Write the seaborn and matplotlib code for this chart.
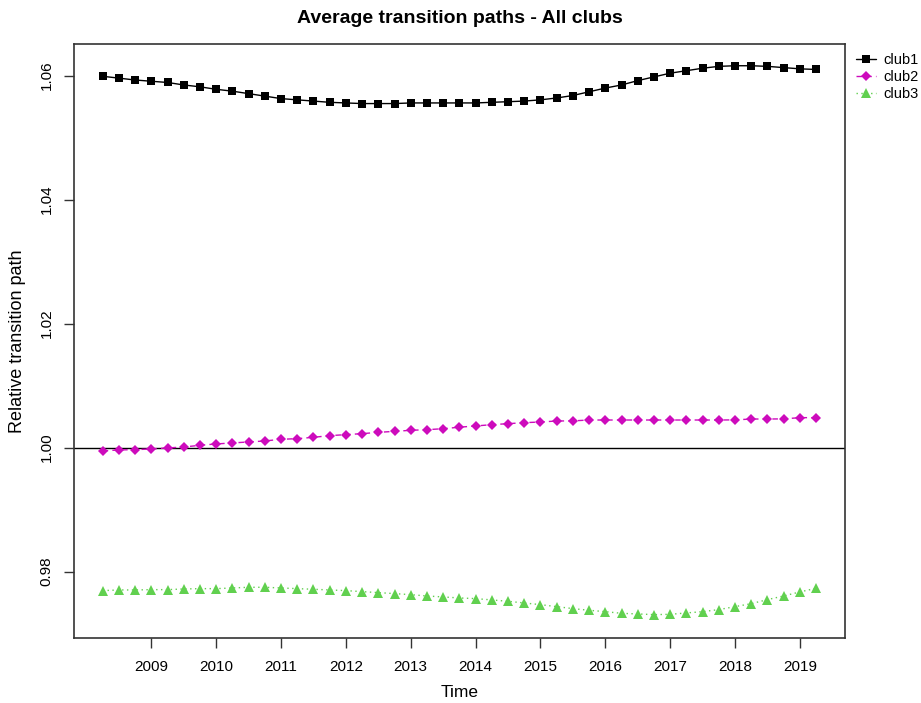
import numpy as np
import pandas as pd
import matplotlib
matplotlib.use("Agg")
import matplotlib.pyplot as plt
import seaborn as sns

# Quarterly time axis, 2008 Q2 to 2019 Q2
start_year = 2008.25
n_quarters = 45

club1 = [1.0599, 1.0596, 1.0593, 1.0591, 1.0589, 1.0585, 1.0582, 1.0578, 1.0575,
         1.0571, 1.0567, 1.0563, 1.0561, 1.0559, 1.0557, 1.0556, 1.0555, 1.0555,
         1.0555, 1.0556, 1.0556, 1.0556, 1.0556, 1.0556, 1.0557, 1.0558, 1.0559,
         1.0561, 1.0564, 1.0568, 1.0574, 1.0580, 1.0585, 1.0592, 1.0598, 1.0604,
         1.0608, 1.0612, 1.0615, 1.0616, 1.0616, 1.0615, 1.0613, 1.0611, 1.0610]

club2 = [0.99948, 0.99963, 0.99968, 0.99979, 0.99995, 1.00011, 1.00038, 1.00060,
         1.00076, 1.00092, 1.00108, 1.00135, 1.00145, 1.00167, 1.00194, 1.00210,
         1.00226, 1.00247, 1.00263, 1.00280, 1.00290, 1.00306, 1.00330, 1.00350,
         1.00371, 1.00387, 1.00403, 1.00414, 1.00430, 1.00432, 1.00446, 1.00446,
         1.00446, 1.00446, 1.00446, 1.00446, 1.00446, 1.00446, 1.00446, 1.00448,
         1.00462, 1.00462, 1.00464, 1.00484, 1.00484]

club3 = [0.97694, 0.97705, 0.97705, 0.97710, 0.97710, 0.97721, 0.97726, 0.97726,
         0.97737, 0.97748, 0.97748, 0.97737, 0.97726, 0.97716, 0.97705, 0.97694,
         0.97678, 0.97662, 0.97646, 0.97629, 0.97608, 0.97592, 0.97576, 0.97565,
         0.97544, 0.97522, 0.97495, 0.97468, 0.97436, 0.97404, 0.97377, 0.97355,
         0.97328, 0.97318, 0.97307, 0.97312, 0.97334, 0.97355, 0.97388, 0.97436,
         0.97484, 0.97549, 0.97608, 0.97673, 0.97732]

clubs = ["club1", "club2", "club3"]
year_ticks = list(range(2009, 2020))
y_ticks = [0.98, 1.00, 1.02, 1.04, 1.06]

time = start_year + np.arange(n_quarters) / 4.0
df = pd.DataFrame({
    "Time": np.tile(time, 3),
    "value": np.concatenate([club1, club2, club3]),
    "club": np.repeat(clubs, n_quarters),
})

sns.set_style("ticks")
plt.rcParams["font.family"] = ["Liberation Sans", "DejaVu Sans"]
plt.rcParams["text.color"] = "black"
plt.rcParams["axes.labelcolor"] = "black"

fig = plt.figure(figsize=(9.21, 7.03), dpi=100)
ax = fig.add_axes([0.0807, 0.0929, 0.9178 - 0.0807, 0.937 - 0.0929])

palette = {"club1": "black", "club2": "#CD0BBC", "club3": "#61D04F"}
markers = {"club1": "s", "club2": "D", "club3": "^"}
dashes = {"club1": "", "club2": (4, 3), "club3": (1, 2.5)}
marker_sizes = {"s": 5.7, "D": 4.6, "^": 6.5}

sns.lineplot(data=df, x="Time", y="value", hue="club", style="club",
             palette=palette, markers=markers, dashes=dashes,
             linewidth=1.0, markersize=5.5, markeredgewidth=0, ax=ax,
             legend=True)
for line in ax.lines:
    m = line.get_marker()
    if m in marker_sizes:
        line.set_markersize(marker_sizes[m])

ax.axhline(1.0, color="black", linewidth=1.0, zorder=1)

ax.set_xlim(2007.813, 2019.70)
ax.set_ylim(0.96935, 1.06506)
ax.set_xticks(year_ticks)
ax.set_xticklabels([str(y) for y in year_ticks])
ax.set_yticks(y_ticks)
ax.set_yticklabels([f"{v:.2f}" for v in y_ticks], rotation=90, va="center")

for side in ["top", "right", "left", "bottom"]:
    ax.spines[side].set_visible(True)
    ax.spines[side].set_color("#333333")
    ax.spines[side].set_linewidth(1.2)

ax.tick_params(axis="both", direction="out", length=7, width=1.0,
               color="#333333", labelsize=11, labelcolor="black")
ax.tick_params(axis="x", pad=9)
ax.tick_params(axis="y", pad=8)

ax.set_xlabel("Time", fontsize=12.5, labelpad=8)
ax.set_ylabel("Relative transition path", fontsize=13, labelpad=10)
ax.set_title("Average transition paths - All clubs", fontsize=14,
             fontweight="bold", pad=15)

handles, labels = ax.get_legend_handles_labels()
ax.get_legend().remove()
for h in handles:
    m = h.get_marker()
    if m in marker_sizes:
        h.set_markersize(marker_sizes[m])
fig.legend(handles, labels, loc="upper left",
           bbox_to_anchor=(850 / 921, 1 - 47 / 703), frameon=False,
           fontsize=10.5, handlelength=1.4, handletextpad=0.5,
           labelspacing=0.2, borderaxespad=0)

fig.savefig("out.png", dpi=100)
